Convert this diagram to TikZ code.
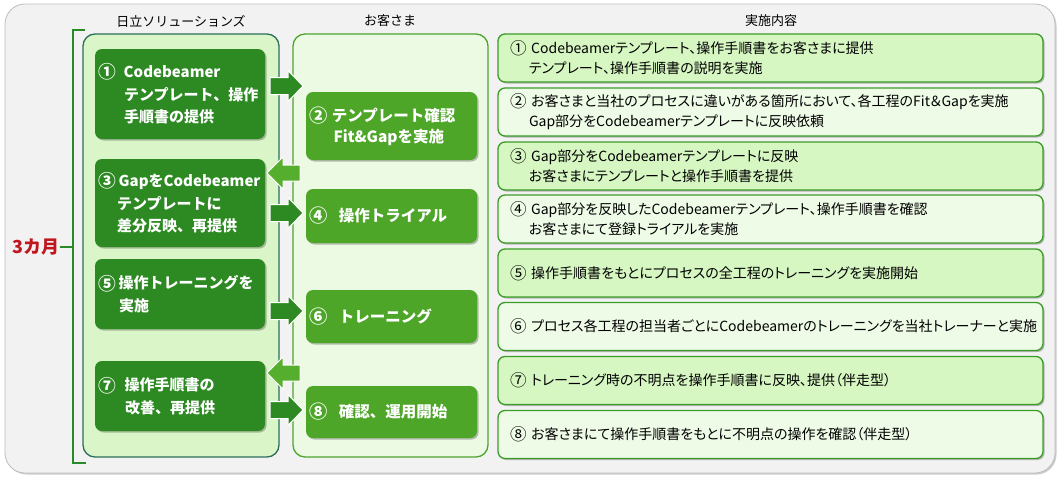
\documentclass[tikz,border=0pt]{standalone}
\usepackage{fontspec}
\usepackage{graphicx}
\setmainfont{Noto Sans CJK JP}[RawFeature=+palt]
\newfontfamily\fullfont{Noto Sans CJK JP}
\usetikzlibrary{shadows}
\definecolor{bgc}{HTML}{F2F2F2}
\definecolor{bgline}{HTML}{BDBDBD}
\definecolor{lpanel}{HTML}{DAF6C9}
\definecolor{lpanelline}{HTML}{2C6E5C}
\definecolor{cpanel}{HTML}{ECF9E3}
\definecolor{cpanelline}{HTML}{4EA52E}
\definecolor{darkbox}{HTML}{2D8A22}
\definecolor{custbox}{HTML}{4DA628}
\definecolor{rarrc}{HTML}{2D8A22}
\definecolor{larrc}{HTML}{56AE2E}
\definecolor{oddfill}{HTML}{D6F6C2}
\definecolor{evenfill}{HTML}{EEFBE7}
\definecolor{rboxline}{HTML}{3C9C28}
\definecolor{brk}{HTML}{2A8A2A}
\definecolor{monthred}{HTML}{C0161E}
\newcommand{\cnum}[1]{\raisebox{-0.08em}{\scalebox{1.18}{#1}}}
\tikzset{
  softshadow/.style={drop shadow={shadow xshift=1.5pt, shadow yshift=-1.5pt, opacity=0.25, fill=black}},
  hdr/.style={font=\fullfont\fontsize{13}{15}\selectfont, text=black},
  panelbox/.style={rounded corners=12pt, line width=1.3pt},
  hitbox/.style={draw=none, fill=darkbox, rounded corners=7pt, softshadow, minimum width=170pt, text=white,
     font=\fullfont\bfseries\fontsize{15}{22.5}\selectfont, align=left, text width=164pt, inner xsep=3pt},
  cubox/.style={draw=none, fill=custbox, rounded corners=7pt, softshadow, minimum width=171pt, text=white,
     font=\fullfont\bfseries\fontsize{15.5}{21}\selectfont, align=left, text width=164pt, inner xsep=3.5pt},
  rbox/.style={draw=rboxline, line width=1.3pt, rounded corners=7pt, softshadow, minimum width=545pt,
     minimum height=48pt, text=black, font=\fontsize{14}{20}\selectfont, align=left, text width=521pt, inner xsep=12pt},
  rarr/.style={fill=rarrc, draw=white, line width=1pt},
  larr/.style={fill=larrc, draw=white, line width=1pt},
}
\newcommand{\rightblock}[1]{\filldraw[rarr] (270,#1-8.5) -- (288,#1-8.5) -- (288,#1-15.5) -- (303,#1) -- (288,#1+15.5) -- (288,#1+8.5) -- (270,#1+8.5) -- cycle;}
\newcommand{\leftblock}[1]{\filldraw[larr] (300,#1-8) -- (283,#1-8) -- (283,#1-16) -- (267,#1) -- (283,#1+16) -- (283,#1+8) -- (300,#1+8) -- cycle;}
\begin{document}
\begin{tikzpicture}[x=1pt,y=-1pt]
\useasboundingbox (0,0) rectangle (1060,479);
\fill[white] (0,0) rectangle (1060,479);
% outer background
\draw[fill=bgc, draw=bgline, line width=0.8pt, rounded corners=20pt,
  drop shadow={shadow xshift=1.5pt, shadow yshift=-1.5pt, opacity=0.2, fill=black}] (5,4) rectangle (1055,473);

% headers
\node[hdr] (h1) at (181,21) {日立ソリューションズ};
\node[hdr] (h2) at (390,21) {お客さま};
\node[hdr] (h3) at (771,21) {実施内容};

% bracket
\coordinate (bt) at (85,30);
\coordinate (btl) at (73,30);
\coordinate (bbl) at (73,463);
\coordinate (bb) at (86,463);
\coordinate (bm) at (73,247);
\draw[brk, line width=1.5pt] (bt) -- (btl) -- (bbl) -- (bb);
\node[text=monthred, font=\fullfont\bfseries\fontsize{18}{20}\selectfont, anchor=east, inner sep=0pt] (mon) at (60,247) {3カ月};
\draw[brk, line width=1.3pt] (mon.east) -- (bm);

% panels
\draw[panelbox, fill=lpanel, draw=lpanelline] (83,34) rectangle (279,457);
\draw[panelbox, fill=cpanel, draw=cpanelline] (293,34) rectangle (488,457);

% Hitachi boxes
\node[hitbox, minimum height=90pt] (b1) at (180,94)
  {\cnum{①}\hspace{8pt}Codebeamer\\\hspace*{26pt}テンプレート、操作\\\hspace*{26pt}手順書の提供};
\node[hitbox, minimum height=88pt] (b3) at (180,203)
  {\cnum{③}\hspace{3pt}GapをCodebeamer\\\hspace*{19pt}テンプレートに\\\hspace*{19pt}差分反映、再提供};
\node[hitbox, minimum height=70pt] (b5) at (180,294)
  {\cnum{⑤}\hspace{3pt}操作トレーニングを\\\hspace*{21pt}実施};
\node[hitbox, minimum height=70pt] (b7) at (180,396)
  {\cnum{⑦}\hspace{9pt}操作手順書の\\\hspace*{27pt}改善、再提供};

% customer boxes
\node[cubox, minimum height=68pt] (c2) at (391.5,126)
  {\cnum{②}\hspace{4pt}テンプレート確認\\\hspace*{24pt}Fit\&Gapを実施};
\node[cubox, minimum height=54pt] (c4) at (391.5,216)
  {\cnum{④}\hspace{11pt}操作トライアル};
\node[cubox, minimum height=53pt] (c6) at (391.5,316.5)
  {\cnum{⑥}\hspace{11pt}トレーニング};
\node[cubox, minimum height=52pt] (c8) at (391.5,412)
  {\cnum{⑧}\hspace{11pt}確認、運用開始};

% block arrows
\rightblock{86}
\leftblock{173}
\rightblock{213}
\rightblock{311}
\leftblock{373}
\rightblock{410}

% right column
\node[rbox, fill=oddfill] (r1) at (770.5,58)
  {\mbox{\cnum{①}~Codebeamerテンプレート、操作手順書をお客さまに提供}\\\hspace*{19pt}テンプレート、操作手順書の説明を実施};
\node[rbox, fill=evenfill] (r2) at (770.5,112)
  {\mbox{\cnum{②}~お客さまと当社のプロセスに違いがある箇所において、各工程のFit＆Gapを実施}\\\hspace*{19pt}Gap部分をCodebeamerテンプレートに反映依頼};
\node[rbox, fill=oddfill] (r3) at (770.5,166)
  {\mbox{\cnum{③}~Gap部分をCodebeamerテンプレートに反映}\\\hspace*{19pt}お客さまにテンプレートと操作手順書を提供};
\node[rbox, fill=evenfill] (r4) at (770.5,219)
  {\mbox{\cnum{④}~Gap部分を反映したCodebeamerテンプレート、操作手順書を確認}\\\hspace*{19pt}お客さまにて登録トライアルを実施};
\node[rbox, fill=oddfill] (r5) at (770.5,273)
  {\mbox{\cnum{⑤}~操作手順書をもとにプロセスの全工程のトレーニングを実施開始}};
\node[rbox, fill=evenfill] (r6) at (770.5,326.5)
  {\mbox{\cnum{⑥}~プロセス各工程の担当者ごとにCodebeamerのトレーニングを当社トレーナーと実施}};
\node[rbox, fill=oddfill] (r7) at (770.5,380.5)
  {\mbox{\cnum{⑦}~トレーニング時の不明点を操作手順書に反映、提供（伴走型）}};
\node[rbox, fill=evenfill] (r8) at (770.5,434.5)
  {\mbox{\cnum{⑧}~お客さまにて操作手順書をもとに不明点の操作を確認（伴走型）}};
\end{tikzpicture}
\end{document}
